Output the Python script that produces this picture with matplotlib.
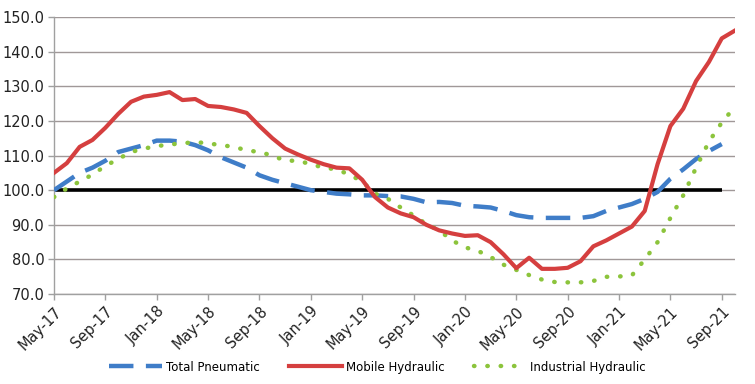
import matplotlib
matplotlib.use("Agg")
import matplotlib.pyplot as plt
import numpy as np
import pandas as pd

months = pd.date_range("2017-05-01", "2021-10-01", freq="MS")
tick_labels = ["May-17", "Sep-17", "Jan-18", "May-18", "Sep-18", "Jan-19", "May-19",
               "Sep-19", "Jan-20", "May-20", "Sep-20", "Jan-21", "May-21", "Sep-21"]

total_pneumatic = [100.0, 102.5, 105.0, 106.5, 108.5, 111.0, 112.0, 113.0, 114.3, 114.3,
                   114.0, 113.0, 111.5, 109.5, 108.0, 106.5, 104.3, 103.0, 102.0, 101.0,
                   100.0, 99.5, 99.0, 98.8, 98.5, 98.5, 98.3, 98.2, 97.5, 96.5,
                   96.6, 96.3, 95.5, 95.3, 95.0, 94.0, 92.8, 92.2, 92.0, 92.0,
                   92.0, 92.0, 92.5, 94.0, 95.0, 96.0, 97.5, 99.5, 103.3, 106.0,
                   109.0, 111.3, 113.3, np.nan]

mobile_hydraulic = [105.0, 107.8, 112.5, 114.5, 118.0, 122.0, 125.5, 127.0, 127.5, 128.3,
                    126.0, 126.3, 124.3, 124.0, 123.3, 122.3, 118.5, 115.0, 112.0, 110.3,
                    108.8, 107.5, 106.5, 106.3, 103.0, 98.0, 95.0, 93.3, 92.2, 90.0,
                    88.4, 87.5, 86.8, 87.0, 85.0, 81.5, 77.5, 80.5, 77.3, 77.3,
                    77.6, 79.5, 83.8, 85.5, 87.5, 89.5, 94.0, 107.5, 118.5, 123.5,
                    131.5, 137.0, 143.8, 146.0]

industrial_hydraulic = [98.0, 100.5, 102.5, 104.5, 107.0, 109.0, 111.0, 112.0, 112.7, 113.2,
                        113.5, 113.9, 113.5, 113.0, 112.5, 111.5, 111.0, 110.0, 108.5, 108.5,
                        107.5, 106.5, 106.0, 104.5, 102.5, 99.0, 97.5, 95.0, 92.7, 90.2,
                        88.4, 85.5, 83.5, 82.5, 80.7, 78.5, 77.0, 75.5, 74.2, 73.5,
                        73.4, 73.4, 73.8, 75.0, 75.1, 75.4, 80.0, 85.0, 92.0, 98.5,
                        106.5, 114.0, 119.5, 124.0]

baseline = 100.0

x = np.arange(len(months))

fig = plt.figure(figsize=(7.55, 3.84), dpi=100)
ax = fig.add_axes([0.0715, 0.234, 0.9015, 0.722])

ax.set_ylim(70, 150)
ax.set_xlim(x[0], x[-1])
ax.set_yticks(np.arange(70, 151, 10))
ax.set_yticklabels([f"{v:.1f}" for v in np.arange(70, 151, 10)])
ax.yaxis.grid(True, color="#a09898", linewidth=1.0)
ax.set_axisbelow(True)

tick_pos = x[::4]
ax.set_xticks(tick_pos)
ax.set_xticklabels(tick_labels, rotation=45, ha="right", rotation_mode="anchor")

for s in ["top", "right"]:
    ax.spines[s].set_visible(False)
for s in ["left", "bottom"]:
    ax.spines[s].set_color("#a0a0a0")
    ax.spines[s].set_linewidth(1.0)
ax.tick_params(axis="both", colors="#a0a0a0", length=4, width=1, labelcolor="#222222")
ax.tick_params(axis="y", labelsize=10.5, pad=3)
ax.tick_params(axis="x", labelsize=10.5, pad=3)

ax.hlines(baseline, x[0], x[tick_pos[-1]], color="black", linewidth=2.6, zorder=2)

ax.plot(x, total_pneumatic, color="#3f7dc8", linewidth=3.2, linestyle=(0, (5.5, 2.8)),
        label="Total Pneumatic", zorder=3)
ax.plot(x, mobile_hydraulic, color="#d53f3f", linewidth=3.0, solid_joinstyle="round",
        label="Mobile Hydraulic", zorder=4)
ax.plot(x, industrial_hydraulic, color="#8cc43c", linewidth=3.2, linestyle=(0, (0.1, 2.9)),
        dash_capstyle="round", label="Industrial Hydraulic", zorder=3)

fig.legend(loc="center", bbox_to_anchor=(0.5, 0.044), ncol=3, frameon=False,
           fontsize=8.5, handlelength=4.5, columnspacing=2.5, handletextpad=0.3)

fig.savefig("out.png", dpi=100)
